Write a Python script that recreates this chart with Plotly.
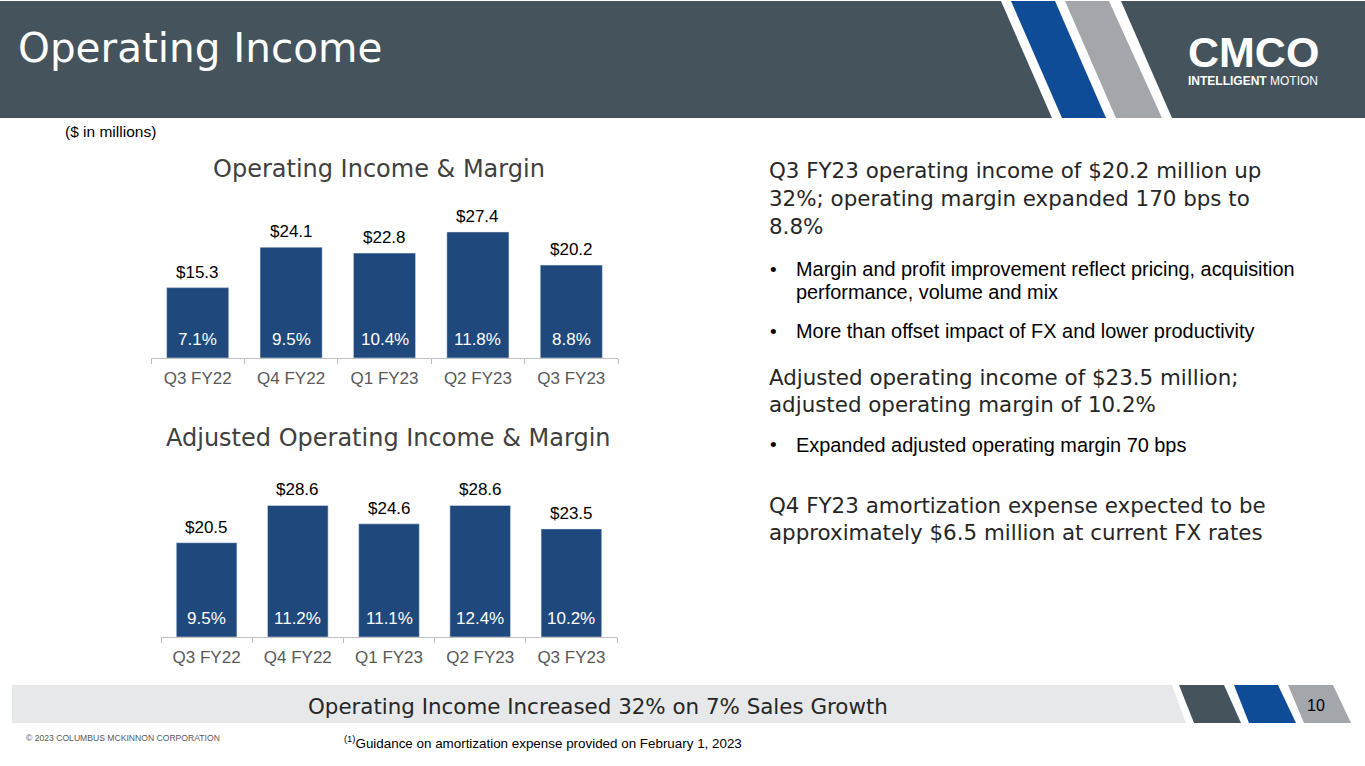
import plotly.graph_objects as go

W, H = 1365, 766

quarters = ["Q3 FY22", "Q4 FY22", "Q1 FY23", "Q2 FY23", "Q3 FY23"]
op_income = [15.3, 24.1, 22.8, 27.4, 20.2]
op_margin = [7.1, 9.5, 10.4, 11.8, 8.8]
adj_income = [20.5, 28.6, 24.6, 28.6, 23.5]
adj_margin = [9.5, 11.2, 11.1, 12.4, 10.2]

SLATE = '#44535c'
BLUE = '#0f4c97'
GREY = '#a3a7ab'
BAR = '#1f497d'
SANS = 'Liberation Sans, Arial, sans-serif'
WIDE = 'DejaVu Sans, sans-serif'

def px(x):
    return x / W

def py(y):
    return 1 - y / H

def poly(points, color):
    path = 'M ' + ' L '.join('%f,%f' % (px(x), py(y)) for x, y in points) + ' Z'
    return dict(type='path', path=path, xref='paper', yref='paper',
                fillcolor=color, line=dict(width=0), layer='below')

def label(x, y, text, size, color='#000000', family=SANS, xanchor='left', **kw):
    return dict(x=px(x), y=py(y), xref='paper', yref='paper', text=text,
                showarrow=False, xanchor=xanchor, yanchor='middle',
                font=dict(family=family, size=size, color=color), **kw)

fig = go.Figure()

fig.add_trace(go.Bar(x=quarters, y=op_income, marker_color=BAR,
                     xaxis='x', yaxis='y', hoverinfo='skip'))
fig.add_trace(go.Bar(x=quarters, y=adj_income, marker_color=BAR,
                     xaxis='x2', yaxis='y2', hoverinfo='skip'))

annotations = []

# bar labels: value above, margin inside at the base
for xa, ya, vals, margins in [('x', 'y', op_income, op_margin),
                              ('x2', 'y2', adj_income, adj_margin)]:
    for q, v, m in zip(quarters, vals, margins):
        annotations.append(dict(x=q, y=v, xref=xa, yref=ya, text='$%.1f' % v,
                                showarrow=False, yanchor='bottom', yshift=4,
                                font=dict(family=SANS, size=17, color='#000000')))
        annotations.append(dict(x=q, y=0, xref=xa, yref=ya, text='%.1f%%' % m,
                                showarrow=False, yanchor='bottom', yshift=7,
                                font=dict(family=SANS, size=17, color='#ffffff')))

# titles
annotations.append(label(16, 48, 'Operating Income', 40.5, '#ffffff', WIDE))
annotations.append(label(63, 131, '($ in millions)', 15.5))
annotations.append(label(379, 169, 'Operating Income & Margin', 24, '#404040', WIDE, 'center'))
annotations.append(label(388, 438, 'Adjusted Operating Income & Margin', 24, '#404040', WIDE, 'center'))

# logo
annotations.append(label(1253, 52, '<b>CMCO</b>', 43, '#ffffff', SANS, 'center', height=36))
annotations.append(label(1253, 81, '<b>INTELLIGENT</b> MOTION', 12, '#ffffff', SANS, 'center', height=14))

# commentary on the right
headings = [
    (170, 'Q3 FY23 operating income of $20.2 million up'),
    (198, '32%; operating margin expanded 170 bps to'),
    (226, '8.8%'),
    (377, 'Adjusted operating income of $23.5 million;'),
    (404, 'adjusted operating margin of 10.2%'),
    (505, 'Q4 FY23 amortization expense expected to be'),
    (532, 'approximately $6.5 million at current FX rates'),
]
for y, t in headings:
    annotations.append(label(767, y, t, 21.4, '#262626', WIDE))

bullets = [
    (269, 'Margin and profit improvement reflect pricing, acquisition', True),
    (292, 'performance, volume and mix', False),
    (331, 'More than offset impact of FX and lower productivity', True),
    (445, 'Expanded adjusted operating margin 70 bps', True),
]
for y, t, dot in bullets:
    if dot:
        annotations.append(label(768, y, '•', 19))
    annotations.append(label(794, y, t, 19.9))

# bottom banner and footer
annotations.append(label(598, 706, 'Operating Income Increased 32% on 7% Sales Growth', 21.4, '#262626', WIDE, 'center'))
annotations.append(label(1316, 705, '10', 16, '#000000', SANS, 'center'))
annotations.append(label(24, 738, '© 2023 COLUMBUS MCKINNON CORPORATION', 8.6, '#595959'))
annotations.append(label(342, 742, '<sup>(1)</sup>Guidance on amortization expense provided on February 1, 2023', 13.4))

shapes = [
    dict(type='rect', xref='paper', yref='paper', x0=0, x1=1, y0=py(118), y1=py(1),
         fillcolor=SLATE, line=dict(width=0), layer='below'),
    poly([(1001, 1), (1121, 1), (1172, 118), (1052, 118)], '#ffffff'),
    poly([(1011, 1), (1055, 1), (1106, 118), (1062, 118)], BLUE),
    poly([(1065, 1), (1109, 1), (1162, 118), (1116, 118)], GREY),
    poly([(12, 685), (1172, 685), (1186, 723), (12, 723)], '#e7e8ea'),
    poly([(1179, 685), (1224, 685), (1241, 723), (1194, 723)], SLATE),
    poly([(1234, 685), (1278, 685), (1296, 723), (1249, 723)], BLUE),
    poly([(1288, 685), (1333, 685), (1351, 723), (1304, 723)], GREY),
]

scale = 4.6  # px per $M
ymax = 34

xaxis_style = dict(showline=True, linecolor='#bfbfbf', linewidth=1, ticks='outside',
                   tickson='boundaries', ticklen=5, tickcolor='#bfbfbf', showgrid=False,
                   ticklabelstandoff=5,
                   tickfont=dict(family=SANS, size=17, color='#595959'), fixedrange=True)
yaxis_style = dict(range=[0, ymax], visible=False, fixedrange=True)

fig.update_layout(
    width=W,
    height=H,
    margin=dict(l=0, r=0, t=0, b=0),
    paper_bgcolor='#ffffff',
    plot_bgcolor='rgba(0,0,0,0)',
    showlegend=False,
    bargap=0.335,
    xaxis=dict(domain=[px(151), px(618)], anchor='y', **xaxis_style),
    yaxis=dict(domain=[py(358), py(358 - ymax * scale)], anchor='x', **yaxis_style),
    xaxis2=dict(domain=[px(161), px(617)], anchor='y2', **xaxis_style),
    yaxis2=dict(domain=[py(637), py(637 - ymax * scale)], anchor='x2', **yaxis_style),
    annotations=annotations,
    shapes=shapes,
)

# page body has a default 8px margin; drop it so the slide sits at the corner
fig.write_html('out.html', config={'displayModeBar': False},
               post_script="document.body.style.margin='0';")
